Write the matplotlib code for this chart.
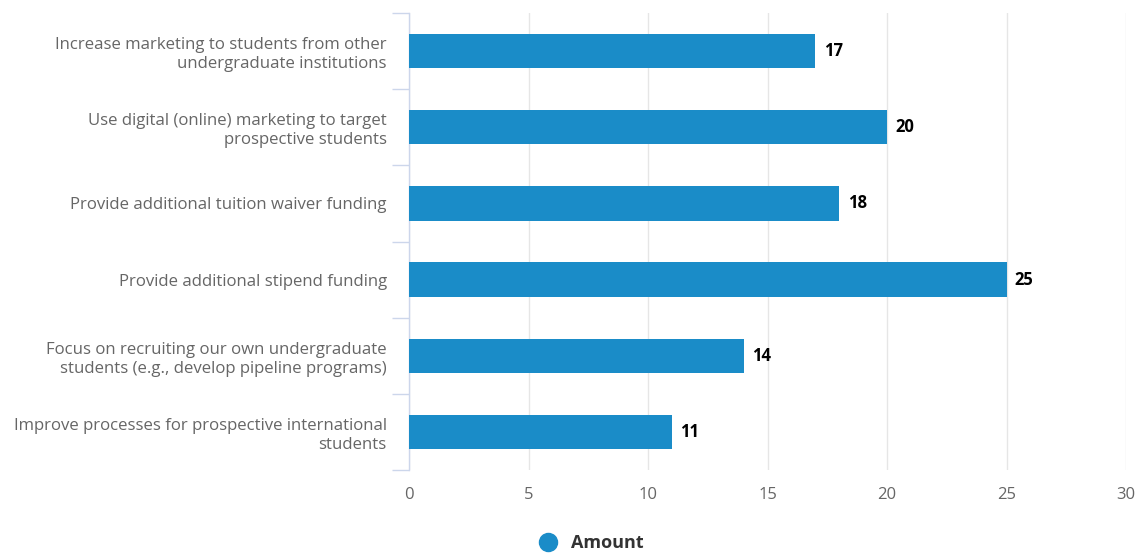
import matplotlib.pyplot as plt
from matplotlib.lines import Line2D

categories = [
    "Increase marketing to students from other\nundergraduate institutions",
    "Use digital (online) marketing to target\nprospective students",
    "Provide additional tuition waiver funding",
    "Provide additional stipend funding",
    "Focus on recruiting our own undergraduate\nstudents (e.g., develop pipeline programs)",
    "Improve processes for prospective international\nstudents",
]
amounts = [17, 20, 18, 25, 14, 11]
xticks = [0, 5, 10, 15, 20, 25, 30]

plt.rcParams['font.family'] = ['Open Sans', 'DejaVu Sans']

bar_color = '#1a8cc8'
axis_color = '#ccd6eb'
grid_color = '#e6e6e6'

fig = plt.figure(figsize=(11.38, 5.56), dpi=100)
ax = fig.add_axes([409 / 1138, 1 - 470 / 556, (1126 - 409) / 1138, (470 - 13) / 556])

n = len(categories)
ypos = list(range(n))
ax.barh(ypos, amounts, height=0.45, color=bar_color, zorder=3)
for y, v in zip(ypos, amounts):
    ax.text(v + 0.35, y, str(v), va='center', ha='left', fontsize=12,
            fontweight='bold', color='#000000', zorder=4)

ax.set_ylim(n - 0.5, -0.5)
ax.set_xlim(0, 30)
ax.set_xticks(xticks)
ax.set_xticklabels([str(t) for t in xticks], fontsize=12, color='#666666')
ax.tick_params(axis='x', length=0, pad=12)

# category labels centred on bars, ticks on the band boundaries
ax.set_yticks(ypos)
ax.set_yticklabels(categories, fontsize=12.1, color='#666666', linespacing=1.25)
ax.tick_params(axis='y', which='major', length=0, pad=16)
ax.set_yticks([i - 0.5 for i in range(n + 1)], minor=True)
ax.tick_params(axis='y', which='minor', length=12, width=1, color=axis_color)

ax.grid(axis='x', color=grid_color, linewidth=1, zorder=0)
for s in ['top', 'right', 'bottom']:
    ax.spines[s].set_visible(False)
ax.spines['left'].set_color(axis_color)
ax.spines['left'].set_linewidth(1)

handle = Line2D([], [], marker='o', linestyle='none', markersize=13,
                markerfacecolor=bar_color, markeredgecolor=bar_color)
fig.legend([handle], ['Amount'], loc='center', bbox_to_anchor=(587 / 1138, 1 - 543 / 556),
           frameon=False, prop={'size': 13, 'weight': 'bold'}, labelcolor='#333333',
           handletextpad=0.3)

fig.savefig('out.png', dpi=100)
